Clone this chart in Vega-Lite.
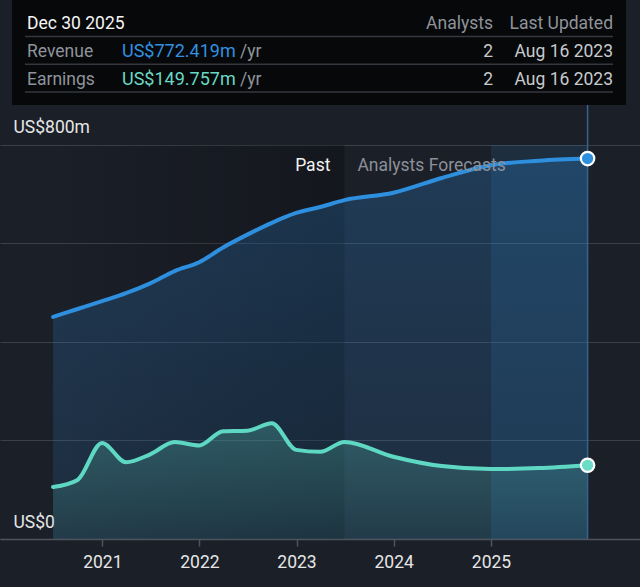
{
  "$schema": "https://vega.github.io/schema/vega-lite/v6.json",
  "width": 640,
  "height": 539,
  "autosize": {"type": "none"},
  "padding": {"left": 0, "top": 0, "right": 0, "bottom": 48},
  "background": "#1b1f28",
  "config": {
    "view": {"stroke": null},
    "font": "Roboto",
    "axisX": {"domainColor": "#4e535c", "domainWidth": 1.5, "tickColor": "#4e535c", "tickSize": 7, "tickWidth": 1.5, "labelColor": "#e6e6e6", "labelFontSize": 17.5, "labelPadding": 7, "labelFlush": false, "grid": false},
    "axisY": {"domain": false, "ticks": false, "tickSize": 0, "gridColor": "#3a3f49", "gridWidth": 1.2, "labelColor": "#e6e6e6", "labelFontSize": 17.5, "labelAlign": "left", "labelPadding": -13, "labelBaseline": "alphabetic", "labelOffset": -12}
  },
  "datasets": {
    "financials": [
      {"date": "2020-06-30", "revenue": 451, "earnings": 105.6},
      {"date": "2020-09-30", "revenue": 467, "earnings": 120},
      {"date": "2020-12-31", "revenue": 483, "earnings": 195},
      {"date": "2021-03-31", "revenue": 499, "earnings": 156},
      {"date": "2021-06-30", "revenue": 519, "earnings": 172},
      {"date": "2021-09-30", "revenue": 544, "earnings": 197},
      {"date": "2021-12-31", "revenue": 562, "earnings": 190},
      {"date": "2022-03-31", "revenue": 592, "earnings": 219},
      {"date": "2022-06-30", "revenue": 618, "earnings": 220},
      {"date": "2022-09-30", "revenue": 642, "earnings": 235},
      {"date": "2022-12-31", "revenue": 662, "earnings": 181},
      {"date": "2023-03-31", "revenue": 674, "earnings": 177},
      {"date": "2023-06-30", "revenue": 688, "earnings": 197},
      {"date": "2023-12-31", "revenue": 703, "earnings": 167},
      {"date": "2024-06-30", "revenue": 733, "earnings": 148},
      {"date": "2024-12-31", "revenue": 759, "earnings": 142},
      {"date": "2025-06-30", "revenue": 768, "earnings": 144},
      {"date": "2025-12-30", "revenue": 772.419, "earnings": 149.757}
    ],
    "periods": [
      {"period": "Past", "label": "Past", "start": "2020-06-30", "end": "2023-06-30"},
      {"period": "Forecast", "label": "Analysts Forecasts", "start": "2023-06-30", "end": "2025-12-30"},
      {"period": "Selected", "label": "Dec 30 2025", "start": "2025-01-01", "end": "2025-12-30"}
    ],
    "tooltipHeader": [
      {"row": "Header", "date": "Dec 30 2025", "analysts": "Analysts", "updated": "Last Updated"}
    ],
    "tooltipRows": [
      {"row": "Revenue", "label": "Revenue", "value": "US$772.419m", "unit": "/yr", "analysts": "2", "updated": "Aug 16 2023"},
      {"row": "Earnings", "label": "Earnings", "value": "US$149.757m", "unit": "/yr", "analysts": "2", "updated": "Aug 16 2023"}
    ],
    "separators": [{"sep": "s1"}, {"sep": "s2"}, {"sep": "s3"}]
  },
  "layer": [
    {
      "data": {"name": "financials"},
      "layer": [
        {
          "data": {"name": "periods"},
          "transform": [{"filter": "datum.period === 'Past'"}],
          "mark": {"type": "rect", "fill": {"gradient": "linear", "x1": 0, "y1": 0, "x2": 1, "y2": 0, "stops": [{"offset": 0, "color": "rgba(0,0,0,0)"}, {"offset": 1, "color": "rgba(0,0,0,0.28)"}]}},
          "encoding": {
            "x": {"field": "start", "type": "temporal", "title": null,
              "scale": {"type": "utc", "domain": [{"year": 2019, "month": 12, "date": 13, "hours": 12, "utc": true}, {"year": 2026, "month": 7, "date": 15, "utc": true}]},
              "axis": {"values": [
                {"year": 2021, "month": 1, "date": 1, "utc": true},
                {"year": 2022, "month": 1, "date": 1, "utc": true},
                {"year": 2023, "month": 1, "date": 1, "utc": true},
                {"year": 2024, "month": 1, "date": 1, "utc": true},
                {"year": 2025, "month": 1, "date": 1, "utc": true}], "format": "%Y", "formatType": "utc"}},
            "x2": {"field": "end"},
            "y": {"datum": 0, "type": "quantitative", "title": null,
              "scale": {"domain": [0, 1094.4], "nice": false, "zero": true},
              "axis": {"values": [0, 200, 400, 600, 800], "grid": true, "labelExpr": "datum.value == 800 ? 'US$800m' : (datum.value == 0 ? 'US$0' : '')"}},
            "y2": {"datum": 800}
          }
        },
        {
          "data": {"name": "periods"},
          "transform": [{"filter": "datum.period === 'Selected'"}],
          "mark": {"type": "rect", "fill": "rgba(47,143,224,0.13)"},
          "encoding": {
            "x": {"field": "start", "type": "temporal", "title": null},
            "x2": {"field": "end"},
            "y": {"datum": 0, "type": "quantitative", "title": null},
            "y2": {"datum": 800}
          }
        },
        {
          "mark": {"type": "area", "interpolate": "monotone", "fill": {"gradient": "linear", "x1": 0, "y1": 0, "x2": 0, "y2": 1, "stops": [{"offset": 0, "color": "rgba(47,143,224,0.25)"}, {"offset": 1, "color": "rgba(47,143,224,0.12)"}]}},
          "encoding": {
            "x": {"field": "date", "type": "temporal", "title": null},
            "y": {"field": "revenue", "type": "quantitative", "title": null}
          }
        },
        {
          "mark": {"type": "area", "interpolate": "monotone", "fill": {"gradient": "linear", "x1": 0, "y1": 0, "x2": 0, "y2": 1, "stops": [{"offset": 0, "color": "rgba(99,220,200,0.26)"}, {"offset": 1, "color": "rgba(99,220,200,0.08)"}]}},
          "encoding": {
            "x": {"field": "date", "type": "temporal", "title": null},
            "y": {"field": "earnings", "type": "quantitative", "title": null}
          }
        },
        {
          "mark": {"type": "line", "interpolate": "monotone", "stroke": "#2e8fdf", "strokeWidth": 4, "strokeCap": "round"},
          "encoding": {
            "x": {"field": "date", "type": "temporal", "title": null},
            "y": {"field": "revenue", "type": "quantitative", "title": null}
          }
        },
        {
          "mark": {"type": "line", "interpolate": "monotone", "stroke": "#5fd8c3", "strokeWidth": 4, "strokeCap": "round"},
          "encoding": {
            "x": {"field": "date", "type": "temporal", "title": null},
            "y": {"field": "earnings", "type": "quantitative", "title": null}
          }
        },
        {
          "data": {"name": "periods"},
          "transform": [{"filter": "datum.period === 'Selected'"}],
          "mark": {"type": "rule", "stroke": "#36648f", "strokeWidth": 1.5},
          "encoding": {
            "x": {"field": "end", "type": "temporal", "title": null}
          }
        },
        {
          "transform": [{"filter": {"field": "date", "equal": {"year": 2025, "month": 12, "date": 30, "utc": true}}}],
          "mark": {"type": "circle", "size": 180, "color": "#2e8fdf", "stroke": "#ffffff", "strokeWidth": 2.2, "opacity": 1},
          "encoding": {
            "x": {"field": "date", "type": "temporal", "title": null},
            "y": {"field": "revenue", "type": "quantitative", "title": null}
          }
        },
        {
          "transform": [{"filter": {"field": "date", "equal": {"year": 2025, "month": 12, "date": 30, "utc": true}}}],
          "mark": {"type": "circle", "size": 180, "color": "#6adcc8", "stroke": "#ffffff", "strokeWidth": 2.2, "opacity": 1},
          "encoding": {
            "x": {"field": "date", "type": "temporal", "title": null},
            "y": {"field": "earnings", "type": "quantitative", "title": null}
          }
        },
        {
          "data": {"name": "periods"},
          "transform": [{"filter": "datum.period === 'Past'"}],
          "mark": {"type": "text", "align": "right", "baseline": "alphabetic", "dx": -14, "dy": 26, "fontSize": 17.5, "color": "#f2f2f2"},
          "encoding": {
            "x": {"field": "end", "type": "temporal", "title": null},
            "y": {"datum": 800, "type": "quantitative", "title": null},
            "text": {"field": "label"}
          }
        },
        {
          "data": {"name": "periods"},
          "transform": [{"filter": "datum.period === 'Forecast'"}],
          "mark": {"type": "text", "align": "left", "baseline": "alphabetic", "dx": 13, "dy": 26, "fontSize": 17.5, "color": "#8b9099"},
          "encoding": {
            "x": {"field": "start", "type": "temporal", "title": null},
            "y": {"datum": 800, "type": "quantitative", "title": null},
            "text": {"field": "label"}
          }
        }
      ]
    },
    {
      "layer": [
        {
          "data": {"name": "tooltipHeader"},
          "layer": [
            {
              "mark": {"type": "rect", "fill": "#07080a", "stroke": "#07080a", "strokeWidth": 26, "strokeJoin": "miter"},
              "encoding": {
                "x": {"datum": "left", "type": "nominal", "scale": {"type": "point", "domain": ["left", "right"], "range": [25, 613], "padding": 0}, "axis": null},
                "x2": {"datum": "right"},
                "y": {"datum": "top", "type": "nominal", "scale": {"type": "point", "domain": ["top", "Header", "s1", "Revenue", "s2", "Earnings", "s3"], "range": [8.6, 92], "padding": 0}, "axis": null},
                "y2": {"datum": "s3"}
              }
            },
            {
              "mark": {"type": "text", "align": "left", "baseline": "middle", "dx": 2, "dy": 1.5, "fontSize": 17.5, "color": "#f5f5f5"},
              "encoding": {
                "x": {"datum": "left", "type": "nominal"},
                "y": {"field": "row", "type": "nominal"},
                "text": {"field": "date"}
              }
            },
            {
              "mark": {"type": "text", "align": "right", "baseline": "middle", "dx": -120, "dy": 1.5, "fontSize": 17.5, "color": "#8f949b"},
              "encoding": {
                "x": {"datum": "right", "type": "nominal"},
                "y": {"field": "row", "type": "nominal"},
                "text": {"field": "analysts"}
              }
            },
            {
              "mark": {"type": "text", "align": "right", "baseline": "middle", "dx": 0, "dy": 1.5, "fontSize": 17.5, "color": "#8f949b"},
              "encoding": {
                "x": {"datum": "right", "type": "nominal"},
                "y": {"field": "row", "type": "nominal"},
                "text": {"field": "updated"}
              }
            }
          ]
        },
        {
          "data": {"name": "separators"},
          "mark": {"type": "rule", "stroke": "#34373d", "strokeWidth": 1.5},
          "encoding": {
            "x": {"datum": "left", "type": "nominal"},
            "x2": {"datum": "right"},
            "y": {"field": "sep", "type": "nominal"}
          }
        },
        {
          "data": {"name": "tooltipRows"},
          "layer": [
            {
              "mark": {"type": "text", "align": "left", "baseline": "middle", "dx": 2, "dy": 1.5, "fontSize": 17.5, "color": "#8f949b"},
              "encoding": {
                "x": {"datum": "left", "type": "nominal"},
                "y": {"field": "row", "type": "nominal"},
                "text": {"field": "label"}
              }
            },
            {
              "mark": {"type": "text", "align": "left", "baseline": "middle", "dx": 97, "dy": 1.5, "fontSize": 18},
              "encoding": {
                "x": {"datum": "left", "type": "nominal"},
                "y": {"field": "row", "type": "nominal"},
                "text": {"field": "value"},
                "color": {"field": "row", "type": "nominal", "scale": {"domain": ["Revenue", "Earnings"], "range": ["#3191e0", "#6ad8c2"]}, "legend": null}
              }
            },
            {
              "mark": {"type": "text", "align": "left", "baseline": "middle", "dx": 215, "dy": 1.5, "fontSize": 17.5, "color": "#8f949b"},
              "encoding": {
                "x": {"datum": "left", "type": "nominal"},
                "y": {"field": "row", "type": "nominal"},
                "text": {"field": "unit"}
              }
            },
            {
              "mark": {"type": "text", "align": "right", "baseline": "middle", "dx": -120, "dy": 1.5, "fontSize": 17.5, "color": "#c8cacd"},
              "encoding": {
                "x": {"datum": "right", "type": "nominal"},
                "y": {"field": "row", "type": "nominal"},
                "text": {"field": "analysts"}
              }
            },
            {
              "mark": {"type": "text", "align": "right", "baseline": "middle", "dx": 0, "dy": 1.5, "fontSize": 17.5, "color": "#c8cacd"},
              "encoding": {
                "x": {"datum": "right", "type": "nominal"},
                "y": {"field": "row", "type": "nominal"},
                "text": {"field": "updated"}
              }
            }
          ]
        }
      ]
    }
  ],
  "resolve": {"scale": {"x": "independent", "y": "independent"}}
}
